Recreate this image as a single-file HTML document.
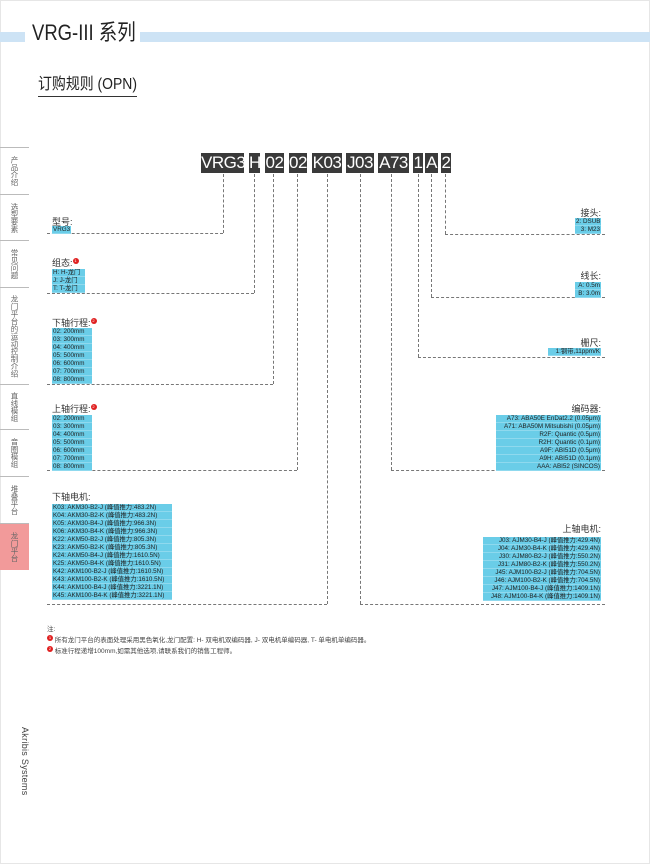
<!DOCTYPE html>
<html><head><meta charset="utf-8"><style>
*{margin:0;padding:0;box-sizing:border-box}
body{width:650px;height:864px;position:relative;background:#fff;font-family:"Liberation Sans","Noto Sans CJK SC",sans-serif;color:#333;overflow:hidden}
.a{position:absolute}
.frame{left:0;top:0;width:650px;height:864px;border:1px solid #e6e6e6}
.band{background:#cde3f5;height:10px;top:32px}
.code{background:#3a3a3a;color:#fff;font-size:17px;line-height:20px;height:20px;top:153px;text-align:center;letter-spacing:-0.5px}
.v{border-left:1px dashed #777;width:0}
.h{border-top:1px dashed #777;height:0}
.lbl{font-size:9px;line-height:10px;color:#333}
.box{background:#6acde8;font-size:6.3px;color:#222;white-space:nowrap;overflow:hidden}
.box div{height:8px;line-height:8px;padding:0 1px;border-bottom:1px solid #8fd9ee}
.r{text-align:right}
.tab{left:0;width:29px;border-bottom:1px solid #bbb;font-size:7.5px;color:#666;writing-mode:vertical-rl;display:flex;align-items:center;justify-content:center;line-height:9px}
.dot{display:inline-block;width:6px;height:6px;border-radius:3px;background:#e02020;color:#fff;font-size:4px;text-align:center;line-height:6px;vertical-align:top}
</style></head><body>
<div class="a frame"></div>
<div class="a band" style="left:0;width:650px"></div>
<div class="a" style="left:25px;top:18px;width:115px;height:30px;background:#fff"></div>
<div class="a" style="left:32px;top:18px;font-size:22px;line-height:30px;color:#222;white-space:nowrap;transform:scaleX(0.84);transform-origin:0 0">VRG-III 系列</div>
<div class="a" style="left:38px;top:75px;font-size:16px;line-height:20px;color:#222;white-space:nowrap;transform:scaleX(0.87);transform-origin:0 0">订购规则 (OPN)</div>
<div class="a" style="left:38px;top:96px;width:99px;border-top:1px solid #333"></div>

<div class="a" style="left:0;top:147px;width:29px;border-top:1px solid #bbb"></div>
<div class="a tab" style="top:148px;height:47px">产品介绍</div>
<div class="a tab" style="top:195px;height:46px">选型要素</div>
<div class="a tab" style="top:241px;height:47px">常见问题</div>
<div class="a tab" style="top:288px;height:97px">龙门平台的运动控制介绍</div>
<div class="a tab" style="top:385px;height:45px">直线模组</div>
<div class="a tab" style="top:430px;height:47px">音圈模组</div>
<div class="a tab" style="top:477px;height:47px">堆叠平台</div>
<div class="a tab" style="top:524px;height:46px;background:#f29a9a;border:none">龙门平台</div>
<div class="a" style="left:20px;top:727px;writing-mode:vertical-rl;font-size:9px;color:#444;letter-spacing:0.3px">Akribis Systems</div>

<div class="a code" style="left:201px;width:43px">VRG3</div>
<div class="a code" style="left:249px;width:11px">H</div>
<div class="a code" style="left:265px;width:19px">02</div>
<div class="a code" style="left:289px;width:18px">02</div>
<div class="a code" style="left:312px;width:30px">K03</div>
<div class="a code" style="left:346px;width:28px">J03</div>
<div class="a code" style="left:378px;width:31px">A73</div>
<div class="a code" style="left:413px;width:10px">1</div>
<div class="a code" style="left:425px;width:13px">A</div>
<div class="a code" style="left:441px;width:10px">2</div>

<div class="a v" style="left:223px;top:174px;height:59px"></div>
<div class="a v" style="left:254px;top:174px;height:119px"></div>
<div class="a v" style="left:273px;top:174px;height:210px"></div>
<div class="a v" style="left:297px;top:174px;height:296px"></div>
<div class="a v" style="left:327px;top:174px;height:430px"></div>
<div class="a v" style="left:360px;top:174px;height:430px"></div>
<div class="a v" style="left:391px;top:174px;height:296px"></div>
<div class="a v" style="left:418px;top:174px;height:183px"></div>
<div class="a v" style="left:431px;top:174px;height:123px"></div>
<div class="a v" style="left:445px;top:174px;height:60px"></div>
<div class="a h" style="left:47px;top:233px;width:176px"></div>
<div class="a h" style="left:47px;top:293px;width:207px"></div>
<div class="a h" style="left:47px;top:384px;width:226px"></div>
<div class="a h" style="left:47px;top:470px;width:250px"></div>
<div class="a h" style="left:47px;top:604px;width:280px"></div>
<div class="a h" style="left:360px;top:604px;width:245px"></div>
<div class="a h" style="left:391px;top:470px;width:214px"></div>
<div class="a h" style="left:418px;top:357px;width:187px"></div>
<div class="a h" style="left:431px;top:297px;width:174px"></div>
<div class="a h" style="left:445px;top:234px;width:160px"></div>

<div class="a lbl" style="left:52px;top:217px">型号:</div>
<div class="a box" style="left:52px;top:226px;width:19px"><div>VRG3</div></div>
<div class="a lbl" style="left:52px;top:258px">组态:<span class="dot">1</span></div>
<div class="a box" style="left:52px;top:269px;width:33px"><div>H: H-龙门</div><div>J: J-龙门</div><div>T: T-龙门</div></div>
<div class="a lbl" style="left:52px;top:318px">下轴行程:<span class="dot">2</span></div>
<div class="a box" style="left:52px;top:328px;width:40px"><div>02: 200mm</div><div>03: 300mm</div><div>04: 400mm</div><div>05: 500mm</div><div>06: 600mm</div><div>07: 700mm</div><div>08: 800mm</div></div>
<div class="a lbl" style="left:52px;top:404px">上轴行程:<span class="dot">2</span></div>
<div class="a box" style="left:52px;top:415px;width:40px"><div>02: 200mm</div><div>03: 300mm</div><div>04: 400mm</div><div>05: 500mm</div><div>06: 600mm</div><div>07: 700mm</div><div>08: 800mm</div></div>
<div class="a lbl" style="left:52px;top:492px">下轴电机:</div>
<div class="a box" style="left:52px;top:504px;width:120px"><div>K03: AKM30-B2-J (峰值推力:483.2N)</div><div>K04: AKM30-B2-K (峰值推力:483.2N)</div><div>K05: AKM30-B4-J (峰值推力:966.3N)</div><div>K06: AKM30-B4-K (峰值推力:966.3N)</div><div>K22: AKM50-B2-J (峰值推力:805.3N)</div><div>K23: AKM50-B2-K (峰值推力:805.3N)</div><div>K24: AKM50-B4-J (峰值推力:1610.5N)</div><div>K25: AKM50-B4-K (峰值推力:1610.5N)</div><div>K42: AKM100-B2-J (峰值推力:1610.5N)</div><div>K43: AKM100-B2-K (峰值推力:1610.5N)</div><div>K44: AKM100-B4-J (峰值推力:3221.1N)</div><div>K45: AKM100-B4-K (峰值推力:3221.1N)</div></div>

<div class="a lbl r" style="left:540px;width:61px;top:208px">接头:</div>
<div class="a box r" style="left:575px;top:218px;width:26px"><div>2: DSUB</div><div>3: M23</div></div>
<div class="a lbl r" style="left:540px;width:61px;top:271px">线长:</div>
<div class="a box r" style="left:575px;top:282px;width:26px"><div>A: 0.5m</div><div>B: 3.0m</div></div>
<div class="a lbl r" style="left:540px;width:61px;top:338px">栅尺:</div>
<div class="a box r" style="left:548px;top:348px;width:53px"><div>1:钢带,11ppm/K</div></div>
<div class="a lbl r" style="left:540px;width:61px;top:404px">编码器:</div>
<div class="a box r" style="left:496px;top:415px;width:105px"><div>A73: ABA50E EnDat2.2 (0.05μm)</div><div>A71: ABA50M Mitsubishi (0.05μm)</div><div>R2F: Quantic (0.5μm)</div><div>R2H: Quantic (0.1μm)</div><div>A9F: ABI51D (0.5μm)</div><div>A9H: ABI51D (0.1μm)</div><div>AAA: ABI52 (SINCOS)</div></div>
<div class="a lbl r" style="left:540px;width:61px;top:524px">上轴电机:</div>
<div class="a box r" style="left:483px;top:537px;width:118px"><div>J03: AJM30-B4-J (峰值推力:429.4N)</div><div>J04: AJM30-B4-K (峰值推力:429.4N)</div><div>J30: AJM80-B2-J (峰值推力:550.2N)</div><div>J31: AJM80-B2-K (峰值推力:550.2N)</div><div>J45: AJM100-B2-J (峰值推力:704.5N)</div><div>J46: AJM100-B2-K (峰值推力:704.5N)</div><div>J47: AJM100-B4-J (峰值推力:1409.1N)</div><div>J48: AJM100-B4-K (峰值推力:1409.1N)</div></div>

<div class="a" style="left:47px;top:624px;font-size:6.5px;line-height:11px;color:#444">注:<br><span class="dot">1</span> 所有龙门平台的表面处理采用黑色氧化,龙门配置: H- 双电机双编码器, J- 双电机单编码器, T- 单电机单编码器。<br><span class="dot">2</span> 标准行程递增100mm,如需其他选项,请联系我们的销售工程师。</div>
</body></html>
